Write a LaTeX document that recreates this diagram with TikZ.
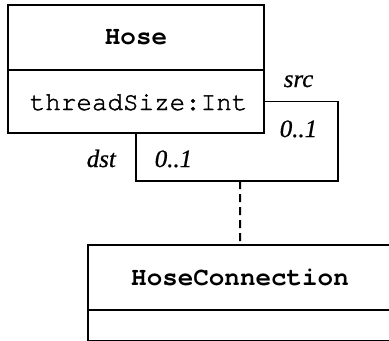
\documentclass[tikz,border=0pt]{standalone}
\usepackage{fontspec}
\setmainfont{Liberation Serif}
\setmonofont{TeX Gyre Cursor}
\newfontfamily\attrfont[FakeBold=1.6]{TeX Gyre Cursor}
\newfontfamily\rolefont[FakeBold=0.8]{Liberation Serif Italic}
\begin{document}
\begin{tikzpicture}[x=1bp,y=-1bp,
  line width=1.6bp,
  compartment/.style={draw, rectangle, inner sep=0pt, outer sep=0pt,
    font=\fontsize{26}{28}\selectfont\ttfamily},
  rolelabel/.style={inner sep=0pt, anchor=base west,
    font=\fontsize{25}{27}\selectfont\rolefont},
  dependency/.style={dashed, dash pattern=on 8bp off 5bp, line width=2bp}]
  \useasboundingbox (0,0) rectangle (389,341);
  \begin{scope}
    \clip (0,0) rectangle (389,341);
    % class Hose
    \node[compartment, minimum width=256bp, minimum height=65bp, anchor=north west]
      (hoseTitle) at (8,5) {\textbf{Hose}};
    \node[compartment, minimum width=256bp, minimum height=63bp, anchor=north west]
      (hoseAttr) at (hoseTitle.south west) {};
    \node[inner sep=0pt, anchor=base west, font=\fontsize{26}{28}\selectfont\attrfont]
      (attr) at (29,110) {threadSize:Int};
    % class HoseConnection
    \node[compartment, minimum width=304bp, minimum height=65bp, anchor=north west]
      (connTitle) at (88,245) {\textbf{HoseConnection}};
    \node[compartment, minimum width=304bp, minimum height=31bp, anchor=north west]
      (connBody) at (connTitle.south west) {};
    % reflexive association
    \coordinate (loopCorner) at (338,181);
    \coordinate (assocMid) at (240,181);
    \draw (hoseAttr.east) -| (loopCorner) -| (hoseAttr.south);
    \draw[dependency] (assocMid) -- (connTitle.north);
    % role names and multiplicities
    \node[rolelabel] (srcRole) at (283,87) {src};
    \node[rolelabel] (srcMult) at (279,137) {0..1};
    \node[rolelabel] (dstRole) at (86,167) {dst};
    \node[rolelabel] (dstMult) at (154,167) {0..1};
  \end{scope}
\end{tikzpicture}
\end{document}
